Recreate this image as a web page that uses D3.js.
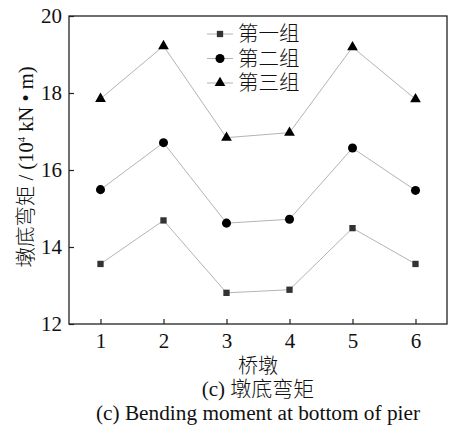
<!DOCTYPE html>
<html>
<head>
<meta charset="utf-8">
<script src="https://cdn.jsdelivr.net/npm/d3@7"></script>
<style>
  body { margin: 0; background: #fff; }
  text { font-family: "Liberation Serif", "Noto Sans CJK SC", serif; fill: #111; }
</style>
</head>
<body>
<div class="chart"></div>
<script>
var svgWidth = 450;
var svgHeight = 425;

var margin = { top: 16, right: 3, bottom: 101, left: 69 };

var width = svgWidth - margin.left - margin.right;
var height = svgHeight - margin.top - margin.bottom;

// data
var piers = [1, 2, 3, 4, 5, 6];
var group1 = [13.56, 14.69, 12.81, 12.89, 14.49, 13.56];
var group2 = [15.49, 16.71, 14.62, 14.72, 16.57, 15.47];
var group3 = [17.85, 19.22, 16.84, 16.97, 19.19, 17.84];
var seriesNames = ["第一组", "第二组", "第三组"];
var yTicks = [12, 14, 16, 18, 20];

var series = [
  { name: seriesNames[0], values: group1, symbol: d3.symbolSquare, size: 40, fill: "#333" },
  { name: seriesNames[1], values: group2, symbol: d3.symbolCircle, size: 64, fill: "#000" },
  { name: seriesNames[2], values: group3, symbol: d3.symbolTriangle, size: 50, fill: "#000" }
];

var cjk = "font-family:'Noto Sans CJK SC';font-weight:300";

var svg = d3.select(".chart")
  .append("svg")
  .attr("width", svgWidth)
  .attr("height", svgHeight);

var chartGroup = svg.append("g")
  .attr("transform", `translate(${margin.left}, ${margin.top})`);

var xScale = d3.scaleLinear().domain([0.5, 6.5]).range([0, width]);
var yScale = d3.scaleLinear().domain([12, 20]).range([height, 0]);

// axes with inward ticks
var bottomAxis = d3.axisBottom(xScale).tickValues(piers).tickFormat(d3.format("d"))
  .tickSizeInner(-5).tickSizeOuter(0).tickPadding(8);
var leftAxis = d3.axisLeft(yScale).tickValues(yTicks).tickFormat(d3.format("d"))
  .tickSizeInner(-5).tickSizeOuter(0).tickPadding(7);

var xAxis = chartGroup.append("g")
  .attr("transform", `translate(0, ${height})`)
  .call(bottomAxis);

var yAxis = chartGroup.append("g")
  .call(leftAxis);

[xAxis, yAxis].forEach(function(ax) {
  ax.select(".domain").remove();
  ax.selectAll("line").attr("stroke", "#222").attr("stroke-width", 1.2);
  ax.selectAll("text").attr("font-size", 21).attr("fill", "#111")
    .style("font-family", "'Liberation Serif', serif");
});
xAxis.selectAll("text").attr("dy", "0.75em");

// frame
chartGroup.append("rect")
  .attr("x", 0).attr("y", 0)
  .attr("width", width).attr("height", height)
  .attr("fill", "none")
  .attr("stroke", "#222")
  .attr("stroke-width", 1.3);

var line = d3.line()
  .x((d, i) => xScale(piers[i]))
  .y(d => yScale(d));

series.forEach(function(s) {
  chartGroup.append("path")
    .datum(s.values)
    .attr("d", line)
    .attr("fill", "none")
    .attr("stroke", "#aaa")
    .attr("stroke-width", 0.9);

  chartGroup.selectAll(null)
    .data(s.values)
    .enter()
    .append("path")
    .attr("d", d3.symbol().type(s.symbol).size(s.size))
    .attr("transform", (d, i) => `translate(${xScale(piers[i])}, ${yScale(d)})`)
    .attr("fill", s.fill);
});

// legend
var legend = chartGroup.append("g")
  .attr("transform", "translate(138, 18)");

series.forEach(function(s, i) {
  var row = legend.append("g").attr("transform", `translate(0, ${i * 24.5})`);
  row.append("line")
    .attr("x1", 0).attr("x2", 26).attr("y1", 0).attr("y2", 0)
    .attr("stroke", "#aaa").attr("stroke-width", 0.9);
  row.append("path")
    .attr("d", d3.symbol().type(s.symbol).size(s.size))
    .attr("transform", "translate(13, 0)")
    .attr("fill", s.fill);
  row.append("text")
    .attr("x", 31).attr("y", 7)
    .attr("font-size", 20.5)
    .attr("style", cjk)
    .text(s.name);
});

// y axis title
svg.append("text")
  .attr("transform", "translate(33, 167) rotate(-90)")
  .attr("text-anchor", "middle")
  .attr("font-size", 20.5)
  .html(`<tspan style="${cjk}">墩底弯矩</tspan> / (10<tspan dy="-8" font-size="11">4</tspan><tspan dy="8"> kN • m)</tspan>`);

// x axis title and captions
svg.append("text")
  .attr("x", 258).attr("y", 373)
  .attr("text-anchor", "middle")
  .attr("font-size", 20)
  .attr("style", cjk)
  .text("桥墩");

svg.append("text")
  .attr("x", 258).attr("y", 396)
  .attr("text-anchor", "middle")
  .attr("font-size", 21)
  .html(`(c) <tspan style="${cjk}">墩底弯矩</tspan>`);

svg.append("text")
  .attr("x", 258).attr("y", 420)
  .attr("text-anchor", "middle")
  .attr("font-size", 21.3)
  .text("(c) Bending moment at bottom of pier");
</script>
</body>
</html>
